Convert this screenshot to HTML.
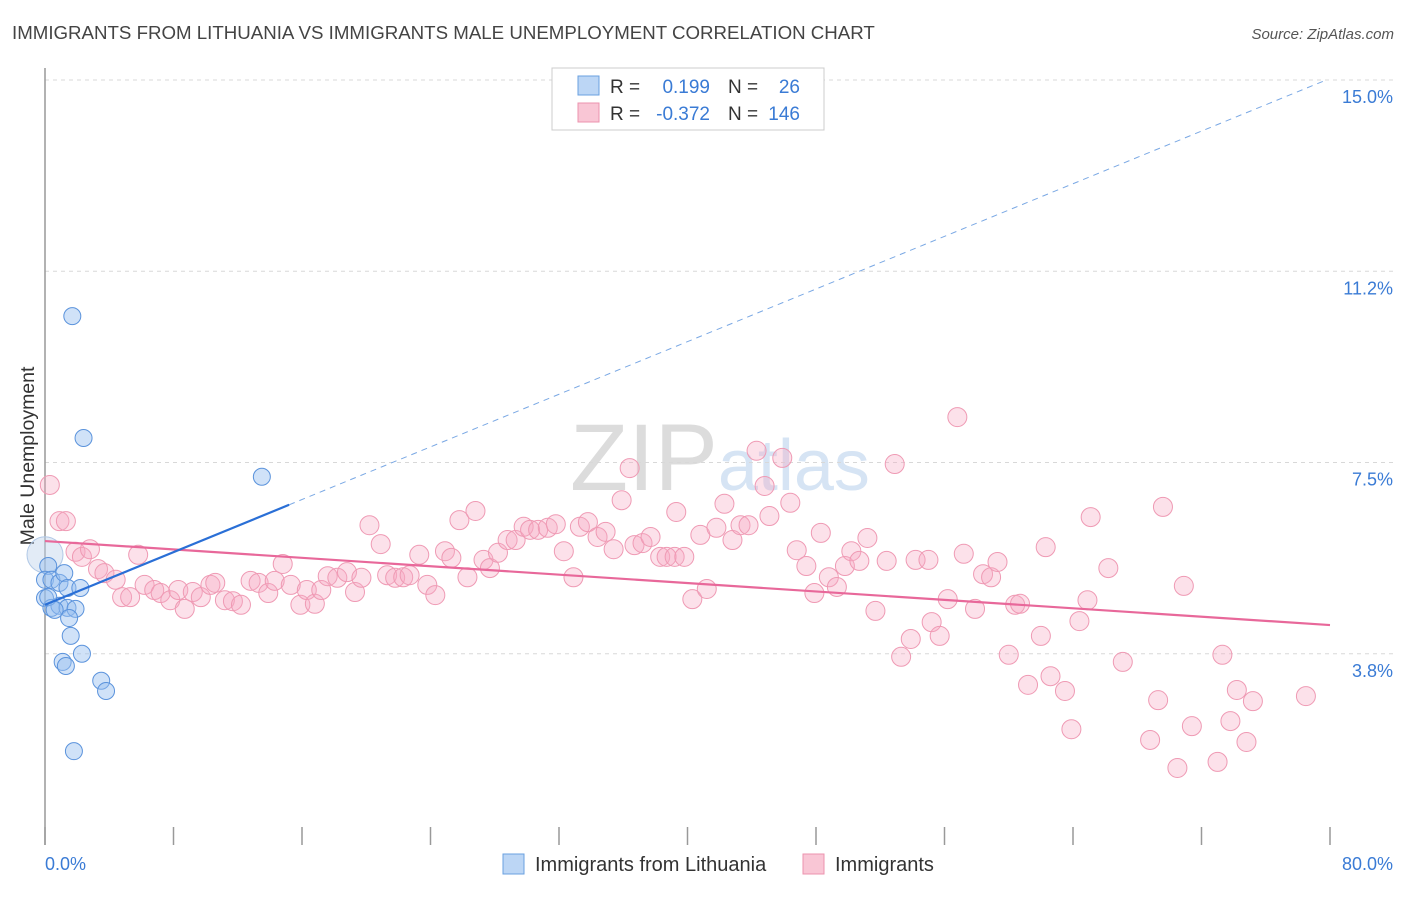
<!DOCTYPE html>
<html><head><meta charset="utf-8"><style>
body{margin:0;background:#fff;font-family:"Liberation Sans",sans-serif}
svg text{font-family:"Liberation Sans",sans-serif}
</style></head><body>
<svg id="chart" width="1406" height="892" xmlns="http://www.w3.org/2000/svg">
<text x="12" y="39" font-size="18.7" fill="#444">IMMIGRANTS FROM LITHUANIA VS IMMIGRANTS MALE UNEMPLOYMENT CORRELATION CHART</text>
<text x="1394" y="39" font-size="15" fill="#555" font-style="italic" text-anchor="end">Source: ZipAtlas.com</text>
<text x="720" y="490" font-size="95" fill="#e4e4e4" text-anchor="middle" font-family="Liberation Serif"><tspan fill="#dcdcdc">ZIP</tspan><tspan fill="#d6e4f4" font-family="Liberation Sans" font-size="72">atlas</tspan></text>
<text transform="translate(34,456) rotate(-90)" font-size="19.5" fill="#333" text-anchor="middle">Male Unemployment</text>
<g id="grid"></g><g id="axes"></g><g id="pts"></g><g id="lines"></g>
<g>
<rect x="552" y="68" width="272" height="62" fill="#fff" stroke="#ccc"/>
<rect x="578" y="76" width="21" height="19" fill="#bcd6f5" stroke="#6aa0e0"/>
<rect x="578" y="103" width="21" height="19" fill="#f9c6d5" stroke="#ec93ae"/>
<text x="610" y="93" font-size="19" fill="#333">R =</text><text x="710" y="93" font-size="19" fill="#3a7bd5" text-anchor="end">0.199</text>
<text x="728" y="93" font-size="19" fill="#333">N =</text><text x="800" y="93" font-size="19" fill="#3a7bd5" text-anchor="end">26</text>
<text x="610" y="120" font-size="19" fill="#333">R =</text><text x="710" y="120" font-size="19" fill="#3a7bd5" text-anchor="end">-0.372</text>
<text x="728" y="120" font-size="19" fill="#333">N =</text><text x="800" y="120" font-size="19" fill="#3a7bd5" text-anchor="end">146</text>
</g>
<g>
<rect x="503" y="854" width="21" height="20" fill="#bcd6f5" stroke="#6aa0e0"/>
<text x="535" y="871" font-size="20" fill="#333">Immigrants from Lithuania</text>
<rect x="803" y="854" width="21" height="20" fill="#f9c6d5" stroke="#ec93ae"/>
<text x="835" y="871" font-size="20" fill="#333">Immigrants</text>
</g>
</svg>
<script>
const yTicks=[3.75,7.5,11.25,15];
const yTickLabels=["3.8%","7.5%","11.2%","15.0%"];
const xTicks=[0,8,16,24,32,40,48,56,64,72,80];
const pinkX=[0.3,0.9,1.3,1.9,2.3,2.8,3.3,3.7,4.4,4.8,5.3,5.8,6.2,6.8,7.2,7.8,8.3,8.7,9.2,9.7,10.3,10.6,11.2,11.7,12.2,12.8,13.3,13.9,14.3,14.8,15.3,15.9,16.3,16.8,17.2,17.6,18.2,18.8,19.3,19.7,20.2,20.9,21.3,21.8,22.3,22.7,23.3,23.8,24.3,24.9,25.3,25.8,26.3,26.8,27.3,27.7,28.2,28.8,29.3,29.8,30.2,30.7,31.3,31.8,32.3,32.9,33.3,33.8,34.4,34.9,35.4,35.9,36.4,36.7,37.2,37.7,38.3,38.7,39.2,39.8,39.3,40.3,40.8,41.2,41.8,42.3,42.8,43.3,43.8,44.3,44.8,45.1,45.9,46.4,46.8,47.4,47.9,48.3,48.8,49.3,49.8,50.2,50.7,51.2,51.7,52.4,52.9,53.3,53.9,54.2,55.0,55.2,55.7,56.2,56.8,57.2,57.9,58.4,58.9,59.3,60.0,60.4,60.7,61.2,62.0,62.3,62.6,63.5,63.9,64.4,64.9,65.1,66.2,67.1,68.8,69.3,69.6,70.5,70.9,71.4,73.0,73.3,73.8,74.2,74.8,75.2,78.5];
const pinkY=[7.06,6.35,6.35,5.75,5.65,5.8,5.41,5.33,5.2,4.86,4.86,5.69,5.1,5.0,4.94,4.8,5.0,4.63,4.96,4.86,5.1,5.14,4.8,4.78,4.71,5.18,5.14,4.94,5.18,5.51,5.1,4.71,5.0,4.73,5.0,5.27,5.24,5.35,4.96,5.24,6.27,5.9,5.29,5.24,5.25,5.29,5.69,5.1,4.9,5.76,5.63,6.37,5.25,6.55,5.59,5.43,5.73,5.98,5.98,6.24,6.18,6.18,6.22,6.29,5.76,5.25,6.24,6.33,6.04,6.14,5.8,6.76,7.39,5.88,5.92,6.04,5.65,5.65,5.65,5.65,6.53,4.82,6.08,5.02,6.22,6.69,5.98,6.27,6.27,7.73,7.04,6.45,7.59,6.71,5.78,5.47,4.94,6.12,5.25,5.06,5.47,5.76,5.57,6.02,4.59,5.57,7.47,3.69,4.04,5.59,5.59,4.37,4.1,4.82,8.39,5.71,4.63,5.31,5.25,5.55,3.73,4.71,4.73,3.14,4.1,5.84,3.31,3.02,2.27,4.39,4.8,6.43,5.43,3.59,2.06,2.84,6.63,1.51,5.08,2.33,1.63,3.73,2.43,3.04,2.02,2.82,2.92];
const blueX=[0.2,0,0.4,0.9,1.2,1.4,2.2,0,0.4,0.9,1.4,1.9,1.5,1.6,2.3,1.1,1.3,1.7,2.4,13.5,3.5,3.8,1.8,0.2,0.6];
const blueY=[5.47,5.2,5.2,5.14,5.33,5.04,5.04,4.84,4.65,4.69,4.65,4.63,4.45,4.1,3.75,3.59,3.51,10.37,7.98,7.22,3.22,3.02,1.84,4.86,4.61];
const blueBigX=[0], blueBigY=[5.69];
const blueTrend=[4.71,0.129], pinkTrend=[5.96,-0.0206];
const X=v=>45+v/80*1285, Y=v=>845-v*51;
const NS="http://www.w3.org/2000/svg";
function mk(tag,attrs,parent){const e=document.createElementNS(NS,tag);for(const k in attrs)e.setAttribute(k,attrs[k]);document.getElementById(parent).appendChild(e);return e;}
yTicks.forEach((t,i)=>{
 const l=mk('line',{x1:45,x2:1394,y1:Y(t),y2:Y(t),stroke:'#d8d8d8','stroke-dasharray':'4,4'},'grid');
 
 
 const tx=mk('text',{x:1393,y:Y(t)+23,'font-size':18,fill:'#3a7bd5','text-anchor':'end'},'grid');
 tx.textContent=yTickLabels[i];
 
 
});
const ax=mk('line',{x1:45,x2:45,y1:68,y2:845,stroke:'#999','stroke-width':1.5},'axes');


xTicks.forEach(t=>{
 const l=mk('line',{x1:X(t),x2:X(t),y1:827,y2:845,stroke:'#999','stroke-width':1.5},'axes');
 
 
});
const xl0=mk('text',{x:45,y:870,'font-size':18,fill:'#3a7bd5'},'axes');xl0.textContent='0.0%';


const xl1=mk('text',{x:1393,y:870,'font-size':18,fill:'#3a7bd5','text-anchor':'end'},'axes');xl1.textContent='80.0%';


pinkX.forEach((x,i)=>{
 const c=mk('circle',{cx:X(x),cy:Y(pinkY[i]),r:9.5,fill:'rgba(246,170,194,0.35)',stroke:'#ef9ab4','stroke-width':1},'pts');
 
 
});
blueBigX.forEach((x,i)=>{
 const c=mk('circle',{cx:X(x),cy:Y(blueBigY[i]),r:18,fill:'rgba(190,210,235,0.45)',stroke:'#b0c8e6','stroke-width':1},'pts');
 
 
});
blueX.forEach((x,i)=>{
 const c=mk('circle',{cx:X(x),cy:Y(blueY[i]),r:8.5,fill:'rgba(150,190,240,0.45)',stroke:'#5b93dc','stroke-width':1},'pts');
 
 
});
const pl=mk('line',{x1:X(0),y1:Y(pinkTrend[0]),x2:X(80),y2:Y(pinkTrend[0]+pinkTrend[1]*80),stroke:'#e8689a','stroke-width':2.2},'lines');


const bl=mk('line',{x1:X(0),y1:Y(blueTrend[0]),x2:X(15.2),y2:Y(blueTrend[0]+blueTrend[1]*15.2),stroke:'#2a6fd6','stroke-width':2.2},'lines');


const bd=mk('line',{x1:X(15.2),y1:Y(blueTrend[0]+blueTrend[1]*15.2),x2:X(79.7),y2:Y(blueTrend[0]+blueTrend[1]*79.7),stroke:'#7aa8e4','stroke-width':1,'stroke-dasharray':'6,5'},'lines');


</script>
</body></html>
